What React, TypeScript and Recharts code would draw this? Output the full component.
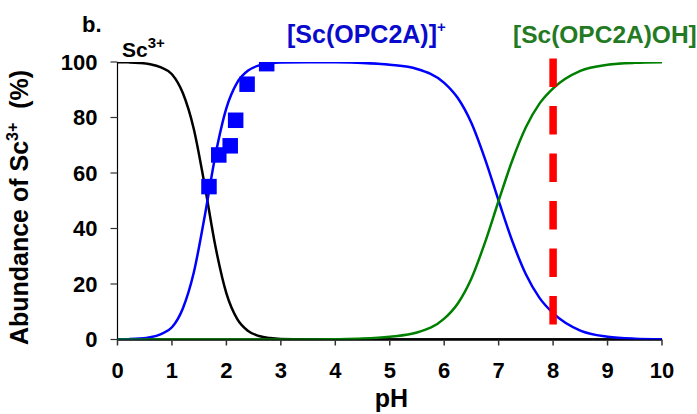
import React from 'react';
import { ComposedChart, Line, Scatter, XAxis, YAxis, ReferenceLine } from 'recharts';

// pH grid for the speciation curves
const PH = [
  0, 0.2, 0.4, 0.6, 0.8, 1.0, 1.2, 1.4, 1.6, 1.8, 2.0, 2.2, 2.4, 2.6, 2.8, 3.0,
  3.5, 4, 4.5, 5, 5.5, 6,
  6.25, 6.5, 6.75, 7, 7.25, 7.5, 7.75, 8,
  8.5, 9, 9.5, 10,
];

// Abundance (%) of free Sc3+
const SC3 = [
  99.95, 99.87, 99.68, 99.21, 98.04, 95.6, 88.8, 75.97, 55.73, 33.39, 16.63, 7.36, 3.07, 1.24, 0.5, 0.2,
  0.02, 0, 0, 0, 0, 0,
  0, 0, 0, 0, 0, 0, 0, 0,
  0, 0, 0, 0,
];

// Abundance (%) of [Sc(OPC2A)]+
const SC_OPC2A = [
  0.05, 0.13, 0.32, 0.79, 1.96, 4.4, 11.2, 24.03, 44.27, 66.61, 83.37, 92.64, 96.93, 98.76, 99.5, 99.8,
  99.95, 99.9, 99.68, 99.0, 97.5, 92.5,
  87, 78, 65, 50, 35.5, 23.5, 15, 9.5,
  3.2, 1.0, 0.3, 0.1,
];

// Abundance (%) of [Sc(OPC2A)OH]
const SC_OPC2A_OH = [
  0, 0, 0, 0, 0, 0, 0, 0, 0, 0, 0, 0, 0, 0, 0, 0,
  0.03, 0.1, 0.32, 1.0, 2.5, 7.5,
  13, 22, 35, 50, 64.5, 76.5, 85, 90.5,
  96.8, 99.0, 99.7, 99.9,
];

// Experimental points for [Sc(OPC2A)]+
const EXP_PH = [1.68, 1.86, 2.07, 2.17, 2.38, 2.74];
const EXP_ABUNDANCE = [55.1, 66.5, 69.8, 79.0, 92.0, 99.4];

// Marker at pH 8
const MARKER_PH = 8;
const MARKER_RANGE = [4.8, 101.3];

const X_TICKS = [0, 1, 2, 3, 4, 5, 6, 7, 8, 9, 10];
const Y_TICKS = [0, 20, 40, 60, 80, 100];

const toSeries = (vals: number[]) => PH.map((x, i) => ({ x, y: vals[i] }));
const sc3Data = toSeries(SC3);
const complexData = toSeries(SC_OPC2A);
const hydroxoData = toSeries(SC_OPC2A_OH);
const expData = EXP_PH.map((x, i) => ({ x, y: EXP_ABUNDANCE[i] }));

const FONT = '"Liberation Sans", Arial, Helvetica, sans-serif';
const W = 697;
const H = 414;

const Square = (props: any) => {
  const { cx, cy } = props;
  if (cx == null || cy == null) return null;
  const s = 15.5;
  return <rect x={cx - s / 2} y={cy - s / 2} width={s} height={s} fill="#0000FF" />;
};

export default function App() {
  return (
    <div style={{ position: 'absolute', left: 0, top: 0, width: W, height: H, background: '#fff' }}>
      <ComposedChart
        width={W}
        height={H}
        margin={{ top: 62, right: 35, bottom: 0, left: 0 }}
        style={{ fontFamily: FONT }}
      >
        <XAxis
          dataKey="x"
          type="number"
          domain={[0, 10]}
          ticks={X_TICKS}
          allowDataOverflow
          height={74.5}
          tickSize={6}
          tickMargin={17}
          axisLine={{ stroke: '#000', strokeWidth: 2.5 }}
          tickLine={{ stroke: '#333', strokeWidth: 1.5 }}
          tick={{ fill: '#000', fontSize: 22, fontWeight: 700, fontFamily: FONT }}
        />
        <YAxis
          type="number"
          domain={[0, 100]}
          ticks={Y_TICKS}
          allowDataOverflow
          width={117.5}
          tickSize={7}
          tickMargin={13}
          axisLine={{ stroke: '#000', strokeWidth: 1.2 }}
          tickLine={{ stroke: '#333', strokeWidth: 1.2 }}
          tick={{ fill: '#000', fontSize: 22, fontWeight: 700, fontFamily: FONT }}
        />
        <Line
          data={sc3Data}
          dataKey="y"
          type="monotone"
          stroke="#000"
          strokeWidth={2.5}
          dot={false}
          isAnimationActive={false}
          zIndex={600}
        />
        <Line
          data={complexData}
          dataKey="y"
          type="monotone"
          stroke="#0000FF"
          strokeWidth={2.5}
          dot={false}
          isAnimationActive={false}
          zIndex={600}
        />
        <Line
          data={hydroxoData}
          dataKey="y"
          type="monotone"
          stroke="#008000"
          strokeWidth={2.5}
          dot={false}
          isAnimationActive={false}
          zIndex={600}
        />
        <ReferenceLine
          segment={[
            { x: MARKER_PH, y: MARKER_RANGE[1] },
            { x: MARKER_PH, y: MARKER_RANGE[0] },
          ]}
          stroke="#FF0000"
          strokeWidth={7.5}
          strokeDasharray="28.5 19"
          ifOverflow="visible"
          zIndex={650}
        />
        <Scatter
          data={expData}
          dataKey="y"
          shape={Square}
          isAnimationActive={false}
          zIndex={700}
        />
      </ComposedChart>
      <svg
        width={W}
        height={H}
        style={{ position: 'absolute', left: 0, top: 0, pointerEvents: 'none' }}
        fontFamily={FONT}
        fontWeight={700}
      >
        <text x={82} y={32} fontSize={22} fill="#000">b.</text>
        <text x={122} y={57} fontSize={21} fill="#000">
          Sc<tspan fontSize={15} dy={-9}>3+</tspan>
        </text>
        <text x={287} y={43} fontSize={25} fill="#0a0acc">
          [Sc(OPC2A)]<tspan fontSize={15} dy={-11}>+</tspan>
        </text>
        <text x={513} y={43} fontSize={24.5} fill="#237a23">[Sc(OPC2A)OH]</text>
        <text
          transform="translate(28,207.5) rotate(-90)"
          x={0}
          y={0}
          textAnchor="middle"
          fontSize={25}
          fill="#000"
        >
          Abundance of Sc<tspan fontSize={16} dy={-10}>3+</tspan>
          <tspan dy={10}>{'\u00a0 (%)'}</tspan>
        </text>
        <text x={391.5} y={407} textAnchor="middle" fontSize={25} fill="#000">pH</text>
      </svg>
    </div>
  );
}
